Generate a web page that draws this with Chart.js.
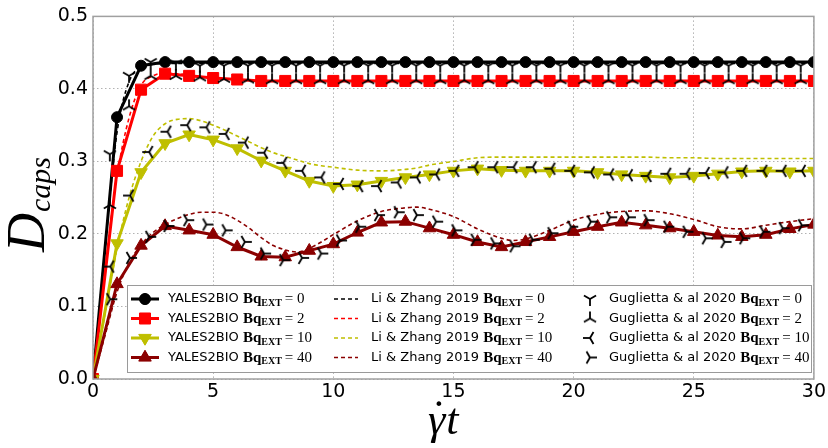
<!DOCTYPE html>
<html><head><meta charset="utf-8">
<script src="https://cdn.jsdelivr.net/npm/chart.js@4/dist/chart.umd.min.js"></script>
<style>html,body{margin:0;padding:0;background:#fff;}#wrap{width:828px;height:448px;position:relative;}</style>
</head><body><div id="wrap"><canvas id="c" width="828" height="448"></canvas></div>
<script>
// ---------- data ----------
const bqValues = ['0', '2', '10', '40'];
const yTicks = [0.0, 0.1, 0.2, 0.3, 0.4, 0.5];
const xTicks = [0, 5, 10, 15, 20, 25, 30];

// YALES2BIO (t = 0..30)
const tYales = [0,1,2,3,4,5,6,7,8,9,10,11,12,13,14,15,16,17,18,19,20,21,22,23,24,25,26,27,28,29,30];
const yalesBq0 = [0,0.361,0.432,0.437,0.437,0.437,0.437,0.437,0.437,0.437,0.437,0.437,0.437,0.437,0.437,0.437,0.437,0.437,0.437,0.437,0.437,0.437,0.437,0.437,0.437,0.437,0.437,0.437,0.437,0.437,0.437];
const yalesBq2 = [0,0.287,0.399,0.421,0.418,0.415,0.413,0.411,0.411,0.411,0.411,0.411,0.411,0.411,0.411,0.411,0.411,0.411,0.411,0.411,0.411,0.411,0.411,0.411,0.411,0.411,0.411,0.411,0.411,0.411,0.411];
const yalesBq10 = [0,0.187,0.285,0.325,0.337,0.330,0.318,0.301,0.287,0.273,0.266,0.268,0.273,0.278,0.282,0.287,0.290,0.288,0.287,0.287,0.287,0.285,0.282,0.280,0.278,0.280,0.283,0.286,0.287,0.286,0.287];
const yalesBq40 = [0,0.131,0.184,0.211,0.205,0.199,0.182,0.169,0.168,0.177,0.186,0.202,0.216,0.217,0.208,0.199,0.189,0.182,0.189,0.196,0.203,0.210,0.216,0.212,0.208,0.203,0.198,0.196,0.199,0.207,0.213];

// Li & Zhang 2019
const tLi = [0,0.5,1,1.5,2,2.5,3,3.5,4,4.5,5,5.5,6,6.5,7,7.5,8,8.5,9,9.5,10,11,12,13,13.5,14,15,16,17,17.5,18,19,20,21,22,23,24,25,26,27,28,29,30];
const liBq0 = [0,0.18,0.34,0.41,0.43,0.434,0.435,0.435,0.435,0.435,0.435,0.435,0.435,0.435,0.435,0.435,0.435,0.435,0.435,0.435,0.435,0.435,0.435,0.435,0.435,0.435,0.435,0.435,0.435,0.435,0.435,0.435,0.435,0.435,0.435,0.435,0.435,0.435,0.435,0.435,0.435,0.435,0.435];
const liBq2 = [0,0.15,0.28,0.36,0.405,0.418,0.422,0.421,0.419,0.417,0.415,0.414,0.413,0.412,0.411,0.411,0.411,0.411,0.411,0.411,0.411,0.411,0.411,0.411,0.411,0.411,0.411,0.411,0.411,0.411,0.411,0.411,0.411,0.411,0.411,0.411,0.411,0.411,0.411,0.411,0.411,0.411,0.411];
const liBq10 = [0,0.09,0.18,0.25,0.30,0.335,0.352,0.358,0.359,0.356,0.350,0.343,0.335,0.327,0.319,0.312,0.307,0.302,0.297,0.294,0.292,0.288,0.287,0.289,0.291,0.295,0.300,0.305,0.306,0.306,0.306,0.306,0.306,0.306,0.306,0.306,0.305,0.305,0.304,0.304,0.304,0.304,0.304];
const liBq40 = [0,0.06,0.12,0.16,0.185,0.202,0.213,0.221,0.227,0.230,0.230,0.227,0.219,0.208,0.195,0.184,0.178,0.175,0.180,0.189,0.199,0.218,0.231,0.236,0.237,0.234,0.224,0.207,0.194,0.191,0.193,0.205,0.219,0.227,0.231,0.232,0.228,0.220,0.210,0.207,0.212,0.217,0.221];

// Guglietta & al 2020
const tGug1 = [0.7,1.5,2.4,3.45,4.45,5.45,6.45,7.45,8.45,9.45,10.45,11.45,12.45,13.45,14.45,15.45,16.45,17.45,18.45,19.45,20.45,21.45,22.45,23.45,24.45,25.45,26.45,27.45,28.45,29.45];
const gugBq0 = [0.31,0.418,0.437,0.435,0.432,0.432,0.432,0.432,0.432,0.432,0.432,0.432,0.432,0.432,0.432,0.432,0.432,0.432,0.432,0.432,0.432,0.432,0.432,0.432,0.432,0.432,0.432,0.432,0.432,0.432];
const gugBq2 = [0.24,0.376,0.418,0.418,0.416,0.414,0.413,0.412,0.412,0.412,0.412,0.412,0.412,0.412,0.412,0.412,0.412,0.412,0.412,0.412,0.412,0.412,0.412,0.412,0.412,0.412,0.412,0.412,0.412,0.412];
const tGug2 = [0.72,1.54,2.34,3.1,3.92,4.72,5.52,6.32,7.12,7.92,8.7,9.5,10.28,11.08,11.86,12.68,13.48,14.28,15.08,15.88,16.7,17.5,18.3,19.08,19.9,20.72,21.52,22.3,23.08,23.9,24.7,25.5,26.28,27.06,27.9,28.7,29.5];
const gugBq10 = [0.155,0.253,0.313,0.341,0.350,0.347,0.338,0.326,0.312,0.298,0.287,0.278,0.269,0.266,0.266,0.271,0.278,0.282,0.287,0.292,0.292,0.292,0.292,0.290,0.287,0.285,0.282,0.281,0.280,0.283,0.283,0.284,0.285,0.287,0.287,0.287,0.287];
const gugBq40 = [0.11,0.167,0.196,0.211,0.219,0.213,0.205,0.189,0.173,0.164,0.167,0.173,0.191,0.21,0.226,0.23,0.226,0.217,0.205,0.192,0.187,0.183,0.192,0.201,0.21,0.217,0.223,0.223,0.219,0.21,0.203,0.194,0.189,0.194,0.203,0.208,0.212];

// ---------- styling ----------
const colors = ['#000000', '#ff0000', '#bfbf00', '#8b0000'];
const yalesStyles = ['circle', 'rect', 'triangle', 'triangle'];
const yalesRot = [0, 0, 180, 0];
const yalesRad = [5.5, 7.8, 7.2, 7.2];
const triRot = [0, 180, 90, -90];

function makeTri(deg) {
  const c = document.createElement('canvas');
  c.width = 18; c.height = 18;
  const g = c.getContext('2d');
  g.translate(9, 9);
  g.rotate(deg * Math.PI / 180);
  g.strokeStyle = '#000'; g.lineWidth = 1.8;
  const r = 7;
  [90, 210, 330].forEach(a => {
    const t = a * Math.PI / 180;
    g.beginPath(); g.moveTo(0, 0); g.lineTo(r * Math.cos(t), r * Math.sin(t)); g.stroke();
  });
  return c;
}
const triImgs = triRot.map(makeTri);

const pts = (xs, ys) => xs.map((x, i) => ({x: x, y: ys[i]}));
const yalesData = [yalesBq0, yalesBq2, yalesBq10, yalesBq40];
const liData = [liBq0, liBq2, liBq10, liBq40];
const gugData = [[tGug1, gugBq0], [tGug1, gugBq2], [tGug2, gugBq10], [tGug2, gugBq40]];

const datasets = [];
for (let i = 0; i < 4; i++) {
  datasets.push({
    label: 'YALES2BIO Bq_EXT = ' + bqValues[i],
    data: pts(tYales, yalesData[i]),
    borderColor: colors[i], backgroundColor: colors[i],
    borderWidth: 3, pointStyle: yalesStyles[i], pointRotation: yalesRot[i],
    pointRadius: yalesRad[i], pointBorderWidth: 1, pointBorderColor: colors[i],
    tension: 0, order: 2 + (3 - i) * 0.01
  });
}
for (let i = 0; i < 4; i++) {
  datasets.push({
    label: 'Li & Zhang 2019 Bq_EXT = ' + bqValues[i],
    data: pts(tLi, liData[i]),
    borderColor: colors[i], borderWidth: 1.6, borderDash: [4, 3],
    pointRadius: 0, cubicInterpolationMode: 'monotone', order: 3
  });
}
for (let i = 0; i < 4; i++) {
  datasets.push({
    label: 'Guglietta & al 2020 Bq_EXT = ' + bqValues[i],
    data: pts(gugData[i][0], gugData[i][1]),
    showLine: false, pointStyle: triImgs[i], pointRadius: 6, order: 1
  });
}

// ---------- custom drawing plugin: frame, titles, legend ----------
const extras = {
  id: 'extras',
  afterDraw(chart) {
    const ctx = chart.ctx, a = chart.chartArea;
    ctx.save();
    // frame
    ctx.strokeStyle = '#a0a0a0'; ctx.lineWidth = 1.5;
    ctx.strokeRect(a.left, a.top, a.right - a.left, a.bottom - a.top);
    // y title
    ctx.fillStyle = '#000';
    ctx.save();
    ctx.translate(44, 252);
    ctx.rotate(-Math.PI / 2);
    ctx.textBaseline = 'alphabetic'; ctx.textAlign = 'left';
    ctx.font = 'italic 54px "Liberation Serif"';
    ctx.fillText('D', 0, 0);
    const wD = ctx.measureText('D').width;
    ctx.font = 'italic 30px "Liberation Serif"';
    ctx.fillText('caps', wD + 1, 6);
    ctx.restore();
    // x title
    ctx.font = 'italic 44px "Liberation Serif"';
    ctx.textBaseline = 'alphabetic'; ctx.textAlign = 'left';
    const wg = ctx.measureText('γ').width;
    const x0 = 428;
    ctx.fillText('γ', x0, 434);
    ctx.fillText('t', x0 + wg + 1, 434);
    ctx.font = '44px "Liberation Serif"';
    const wdot = ctx.measureText('˙').width;
    ctx.fillText('˙', x0 + wg * 0.62 - wdot / 2, 434 - 3);
    // legend
    const L = {x: 127, y: 285, w: 684, h: 87};
    ctx.fillStyle = '#fff';
    ctx.fillRect(L.x, L.y, L.w, L.h);
    ctx.strokeStyle = '#9a9a9a'; ctx.lineWidth = 1;
    ctx.strokeRect(L.x + 0.5, L.y + 0.5, L.w, L.h);
    const rows = [299, 318.5, 338, 357.5];
    const prefixes = ['YALES2BIO', 'Li & Zhang 2019', 'Guglietta & al 2020'];
    const textX = [168, 371, 609];
    function label(x, y, prefix, v) {
      ctx.fillStyle = '#000'; ctx.textBaseline = 'middle'; ctx.textAlign = 'left';
      ctx.font = '13px "DejaVu Sans"';
      ctx.fillText(prefix + ' ', x, y);
      x += ctx.measureText(prefix + ' ').width;
      ctx.font = 'bold 15px "Liberation Serif"';
      ctx.fillText('Bq', x, y + 0.5);
      x += ctx.measureText('Bq').width;
      ctx.font = 'bold 10px "Liberation Serif"';
      ctx.fillText('EXT', x, y + 4);
      x += ctx.measureText('EXT').width + 3;
      ctx.font = '15px "Liberation Serif"';
      ctx.fillText('= ' + v, x, y + 0.5);
    }
    for (let i = 0; i < 4; i++) {
      const y = rows[i];
      ctx.strokeStyle = colors[i]; ctx.lineWidth = 3; ctx.setLineDash([]);
      ctx.beginPath(); ctx.moveTo(131, y); ctx.lineTo(159, y); ctx.stroke();
      ctx.fillStyle = colors[i]; ctx.lineWidth = 1;
      Chart.helpers.drawPoint(ctx, {pointStyle: yalesStyles[i], rotation: yalesRot[i], radius: yalesRad[i], borderWidth: 1}, 145, y);
      ctx.fill();
      label(textX[0], y, prefixes[0], bqValues[i]);
      ctx.strokeStyle = colors[i]; ctx.lineWidth = 1.6; ctx.setLineDash([4, 3]);
      ctx.beginPath(); ctx.moveTo(334, y); ctx.lineTo(358, y); ctx.stroke();
      ctx.setLineDash([]);
      label(textX[1], y, prefixes[1], bqValues[i]);
      ctx.drawImage(triImgs[i], 590 - 9, y - 9);
      label(textX[2], y, prefixes[2], bqValues[i]);
    }
    ctx.restore();
  }
};

new Chart(document.getElementById('c'), {
  type: 'line',
  data: {datasets: datasets},
  plugins: [extras],
  options: {
    responsive: false, animation: false,
    layout: {padding: {top: 12, right: 13, left: 0, bottom: 0}},
    plugins: {legend: {display: false}, tooltip: {enabled: false}},
    scales: {
      x: {
        type: 'linear', min: 0, max: 30,
        afterBuildTicks: s => { s.ticks = xTicks.map(v => ({value: v})); },
        afterFit: s => { s.height = 69; },
        ticks: {font: {family: 'DejaVu Sans', size: 19}, color: '#000', padding: 2, maxRotation: 0, callback: v => String(v)},
        grid: {color: 'rgba(0,0,0,0.3)', lineWidth: 1, drawTicks: false},
        border: {display: false, dash: [1.5, 2.5]}
      },
      y: {
        type: 'linear', min: 0, max: 0.5,
        afterBuildTicks: s => { s.ticks = yTicks.map(v => ({value: v})); },
        afterFit: s => { s.width = 93; },
        ticks: {font: {family: 'DejaVu Sans', size: 19}, color: '#000', padding: 5, callback: v => Number(v).toFixed(1)},
        grid: {color: 'rgba(0,0,0,0.3)', lineWidth: 1, drawTicks: false},
        border: {display: false, dash: [1.5, 2.5]}
      }
    }
  }
});
</script>
</body></html>
